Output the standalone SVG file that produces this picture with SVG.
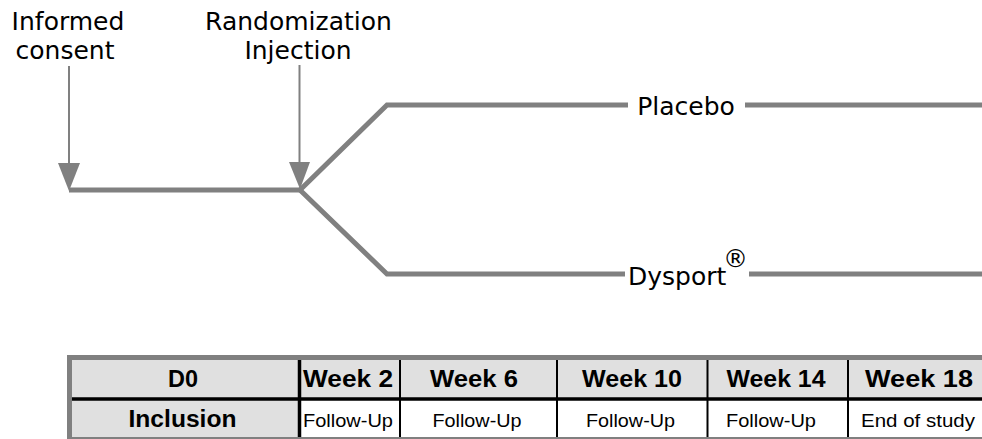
<svg xmlns="http://www.w3.org/2000/svg" width="982" height="439" viewBox="0 0 982 439">
<style>
.lbl{font-family:"DejaVu Sans",Verdana,sans-serif;font-size:25px;fill:#000}
.arm{fill:none;stroke:#808080;stroke-width:5}
.ptr{stroke:#808080;stroke-width:2}
.head{fill:#808080}
.th{font-family:"Liberation Sans",Arial,sans-serif;font-weight:bold;font-size:23px;fill:#000;text-anchor:middle}
.td{font-family:"Liberation Sans",Arial,sans-serif;font-size:19px;fill:#000;text-anchor:middle}
.gcell{fill:#e0e0e0}
.wcell{fill:#ffffff}
.thin{stroke:#000;stroke-width:2}
.thick{stroke:#000;stroke-width:3.5}
</style>
<rect width="982" height="439" fill="#ffffff"/>
<g id="connectors">
<path class="arm" d="M69,190 L300,190"/>
<path class="arm" d="M300,190 L387,105 L628,105"/>
<path class="arm" d="M745,105 L982,105"/>
<path class="arm" d="M300,190 L387,274 L625,274"/>
<path class="arm" d="M749,274 L982,274"/>
<line class="ptr" x1="69" y1="66" x2="69" y2="166"/>
<polygon class="head" points="58,163 80,163 69,191"/>
<line class="ptr" x1="299.5" y1="65" x2="299.5" y2="165"/>
<polygon class="head" points="289,162 310,162 300,189"/>
</g>
<g id="informed-consent">
<text class="lbl" x="68" y="30" text-anchor="middle">Informed</text>
<text class="lbl" x="65" y="59" text-anchor="middle">consent</text>
</g>
<g id="randomization">
<text class="lbl" x="298.5" y="29.5" text-anchor="middle">Randomization</text>
<text class="lbl" x="298" y="59" text-anchor="middle">Injection</text>
</g>
<g id="placebo">
<text class="lbl" x="686" y="115" text-anchor="middle">Placebo</text>
</g>
<g id="dysport">
<text class="lbl" x="628" y="285">Dysport</text>
<text class="lbl" x="735.5" y="267" font-size="15" text-anchor="middle">®</text>
</g>
<g id="table">
<rect class="gcell" x="72" y="360" width="920" height="39"/>
<rect class="gcell" x="72" y="399" width="227" height="38"/>
<rect class="wcell" x="300" y="400" width="690" height="37"/>
<rect x="69.5" y="357.5" width="1000" height="82" fill="none" stroke="#808080" stroke-width="5"/>
<line class="thick" x1="72" y1="399" x2="990" y2="399"/>
<line class="thick" x1="299.5" y1="360" x2="299.5" y2="437"/>
<line class="thin" x1="400" y1="360" x2="400" y2="437"/>
<line class="thin" x1="557" y1="360" x2="557" y2="437"/>
<line class="thin" x1="707.5" y1="360" x2="707.5" y2="437"/>
<line class="thin" x1="848" y1="360" x2="848" y2="437"/>
<text class="th" x="183" y="387" textLength="30" lengthAdjust="spacingAndGlyphs">D0</text>
<text class="th" x="348" y="387" textLength="90" lengthAdjust="spacingAndGlyphs">Week 2</text>
<text class="th" x="474" y="387" textLength="88" lengthAdjust="spacingAndGlyphs">Week 6</text>
<text class="th" x="632" y="387" textLength="100" lengthAdjust="spacingAndGlyphs">Week 10</text>
<text class="th" x="776" y="387" textLength="99" lengthAdjust="spacingAndGlyphs">Week 14</text>
<text class="th" x="919" y="387" textLength="108" lengthAdjust="spacingAndGlyphs">Week 18</text>
<text class="th" x="182.5" y="427" textLength="108" lengthAdjust="spacingAndGlyphs">Inclusion</text>
<text class="td" x="348" y="427" textLength="90" lengthAdjust="spacingAndGlyphs">Follow-Up</text>
<text class="td" x="477" y="427" textLength="89" lengthAdjust="spacingAndGlyphs">Follow-Up</text>
<text class="td" x="630.5" y="427" textLength="89" lengthAdjust="spacingAndGlyphs">Follow-Up</text>
<text class="td" x="771" y="427" textLength="90" lengthAdjust="spacingAndGlyphs">Follow-Up</text>
<text class="td" x="918" y="427" textLength="114" lengthAdjust="spacingAndGlyphs">End of study</text>
</g>
</svg>
